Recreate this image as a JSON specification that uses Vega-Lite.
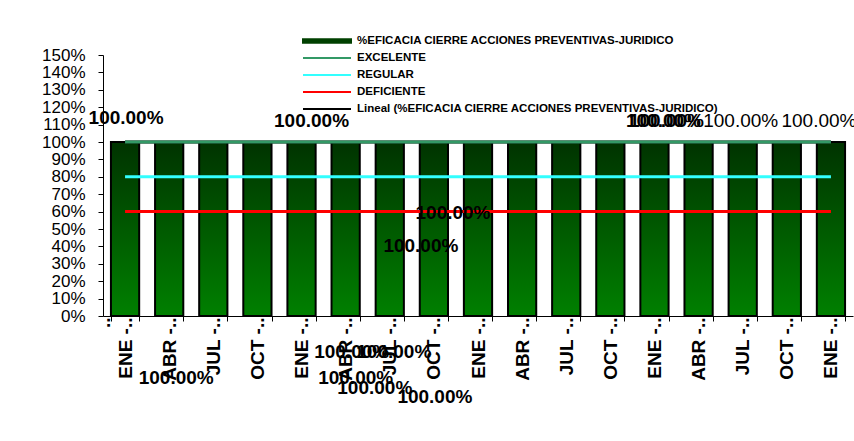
{
  "$schema": "https://vega.github.io/schema/vega-lite/v6.json",
  "width": 750,
  "height": 261,
  "autosize": {"type": "none"},
  "padding": {"left": 103, "top": 55, "right": 1, "bottom": 125},
  "background": "white",
  "config": {"view": {"stroke": null}, "font": "Liberation Sans", "text": {"fontSize": 19, "fontWeight": "bold", "baseline": "middle", "color": "black"}},
  "data": {
    "values": [
      {"n": 1, "periodo": "ENE - MAR 2008", "%EFICACIA CIERRE ACCIONES PREVENTIVAS-JURIDICO": 1.0, "EXCELENTE": 1.0, "REGULAR": 0.8, "DEFICIENTE": 0.6, "Lineal (%EFICACIA CIERRE ACCIONES PREVENTIVAS-JURIDICO)": 1.0},
      {"n": 2, "periodo": "ABR - JUN 2008", "%EFICACIA CIERRE ACCIONES PREVENTIVAS-JURIDICO": 1.0, "EXCELENTE": 1.0, "REGULAR": 0.8, "DEFICIENTE": 0.6, "Lineal (%EFICACIA CIERRE ACCIONES PREVENTIVAS-JURIDICO)": 1.0},
      {"n": 3, "periodo": "JUL - SEP 2008", "%EFICACIA CIERRE ACCIONES PREVENTIVAS-JURIDICO": 1.0, "EXCELENTE": 1.0, "REGULAR": 0.8, "DEFICIENTE": 0.6, "Lineal (%EFICACIA CIERRE ACCIONES PREVENTIVAS-JURIDICO)": 1.0},
      {"n": 4, "periodo": "OCT - DIC 2008", "%EFICACIA CIERRE ACCIONES PREVENTIVAS-JURIDICO": 1.0, "EXCELENTE": 1.0, "REGULAR": 0.8, "DEFICIENTE": 0.6, "Lineal (%EFICACIA CIERRE ACCIONES PREVENTIVAS-JURIDICO)": 1.0},
      {"n": 5, "periodo": "ENE - MAR 2009", "%EFICACIA CIERRE ACCIONES PREVENTIVAS-JURIDICO": 1.0, "EXCELENTE": 1.0, "REGULAR": 0.8, "DEFICIENTE": 0.6, "Lineal (%EFICACIA CIERRE ACCIONES PREVENTIVAS-JURIDICO)": 1.0},
      {"n": 6, "periodo": "ABR - JUN 2009", "%EFICACIA CIERRE ACCIONES PREVENTIVAS-JURIDICO": 1.0, "EXCELENTE": 1.0, "REGULAR": 0.8, "DEFICIENTE": 0.6, "Lineal (%EFICACIA CIERRE ACCIONES PREVENTIVAS-JURIDICO)": 1.0},
      {"n": 7, "periodo": "JUL - SEP 2009", "%EFICACIA CIERRE ACCIONES PREVENTIVAS-JURIDICO": 1.0, "EXCELENTE": 1.0, "REGULAR": 0.8, "DEFICIENTE": 0.6, "Lineal (%EFICACIA CIERRE ACCIONES PREVENTIVAS-JURIDICO)": 1.0},
      {"n": 8, "periodo": "OCT - DIC 2009", "%EFICACIA CIERRE ACCIONES PREVENTIVAS-JURIDICO": 1.0, "EXCELENTE": 1.0, "REGULAR": 0.8, "DEFICIENTE": 0.6, "Lineal (%EFICACIA CIERRE ACCIONES PREVENTIVAS-JURIDICO)": 1.0},
      {"n": 9, "periodo": "ENE - MAR 2010", "%EFICACIA CIERRE ACCIONES PREVENTIVAS-JURIDICO": 1.0, "EXCELENTE": 1.0, "REGULAR": 0.8, "DEFICIENTE": 0.6, "Lineal (%EFICACIA CIERRE ACCIONES PREVENTIVAS-JURIDICO)": 1.0},
      {"n": 10, "periodo": "ABR - JUN 2010", "%EFICACIA CIERRE ACCIONES PREVENTIVAS-JURIDICO": 1.0, "EXCELENTE": 1.0, "REGULAR": 0.8, "DEFICIENTE": 0.6, "Lineal (%EFICACIA CIERRE ACCIONES PREVENTIVAS-JURIDICO)": 1.0},
      {"n": 11, "periodo": "JUL - SEP 2010", "%EFICACIA CIERRE ACCIONES PREVENTIVAS-JURIDICO": 1.0, "EXCELENTE": 1.0, "REGULAR": 0.8, "DEFICIENTE": 0.6, "Lineal (%EFICACIA CIERRE ACCIONES PREVENTIVAS-JURIDICO)": 1.0},
      {"n": 12, "periodo": "OCT - DIC 2010", "%EFICACIA CIERRE ACCIONES PREVENTIVAS-JURIDICO": 1.0, "EXCELENTE": 1.0, "REGULAR": 0.8, "DEFICIENTE": 0.6, "Lineal (%EFICACIA CIERRE ACCIONES PREVENTIVAS-JURIDICO)": 1.0},
      {"n": 13, "periodo": "ENE - MAR 2011", "%EFICACIA CIERRE ACCIONES PREVENTIVAS-JURIDICO": 1.0, "EXCELENTE": 1.0, "REGULAR": 0.8, "DEFICIENTE": 0.6, "Lineal (%EFICACIA CIERRE ACCIONES PREVENTIVAS-JURIDICO)": 1.0},
      {"n": 14, "periodo": "ABR - JUN 2011", "%EFICACIA CIERRE ACCIONES PREVENTIVAS-JURIDICO": 1.0, "EXCELENTE": 1.0, "REGULAR": 0.8, "DEFICIENTE": 0.6, "Lineal (%EFICACIA CIERRE ACCIONES PREVENTIVAS-JURIDICO)": 1.0},
      {"n": 15, "periodo": "JUL - SEP 2011", "%EFICACIA CIERRE ACCIONES PREVENTIVAS-JURIDICO": 1.0, "EXCELENTE": 1.0, "REGULAR": 0.8, "DEFICIENTE": 0.6, "Lineal (%EFICACIA CIERRE ACCIONES PREVENTIVAS-JURIDICO)": 1.0},
      {"n": 16, "periodo": "OCT - DIC 2011", "%EFICACIA CIERRE ACCIONES PREVENTIVAS-JURIDICO": 1.0, "EXCELENTE": 1.0, "REGULAR": 0.8, "DEFICIENTE": 0.6, "Lineal (%EFICACIA CIERRE ACCIONES PREVENTIVAS-JURIDICO)": 1.0},
      {"n": 17, "periodo": "ENE - MAR 2012", "%EFICACIA CIERRE ACCIONES PREVENTIVAS-JURIDICO": 1.0, "EXCELENTE": 1.0, "REGULAR": 0.8, "DEFICIENTE": 0.6, "Lineal (%EFICACIA CIERRE ACCIONES PREVENTIVAS-JURIDICO)": 1.0}
    ]
  },
  "transform": [
    {"fold": ["%EFICACIA CIERRE ACCIONES PREVENTIVAS-JURIDICO", "Lineal (%EFICACIA CIERRE ACCIONES PREVENTIVAS-JURIDICO)", "EXCELENTE", "REGULAR", "DEFICIENTE"], "as": ["serie", "valor"]}
  ],
  "encoding": {
    "x": {
      "field": "periodo", "type": "nominal", "sort": null,
      "scale": {"paddingInner": 0.36, "paddingOuter": 0.18},
      "axis": {
        "title": null, "labelAngle": -90, "labelFontSize": 19, "labelFontWeight": "bold",
        "labelColor": "black", "tickBand": "extent", "tickSize": 5, "tickColor": "black",
        "domainColor": "black", "labelPadding": -4, "labelOverlap": false, "labelBound": false,
        "labelExpr": "slice(datum.label, 0, 5) + '..'"
      }
    },
    "y": {
      "field": "valor", "type": "quantitative",
      "scale": {"domain": [0, 1.5], "nice": false},
      "axis": {
        "title": null, "grid": false, "format": ".0%",
        "values": [0, 0.1, 0.2, 0.3, 0.4, 0.5, 0.6, 0.7, 0.8, 0.9, 1.0, 1.1, 1.2, 1.3, 1.4, 1.5],
        "labelFontSize": 17, "labelColor": "black", "labelPadding": 13, "tickSize": 5,
        "tickColor": "black", "domainColor": "black", "labelOverlap": false, "labelFlush": false
      }
    }
  },
  "layer": [
    {
      "transform": [{"filter": "datum.serie === '%EFICACIA CIERRE ACCIONES PREVENTIVAS-JURIDICO'"}],
      "mark": {
        "type": "bar",
        "stroke": "black",
        "strokeWidth": 2,
        "color": {"gradient": "linear", "x1": 0, "y1": 0, "x2": 0, "y2": 1, "stops": [{"offset": 0, "color": "#003300"}, {"offset": 1, "color": "#008000"}]}
      }
    },
    {
      "transform": [{"filter": "datum.serie !== '%EFICACIA CIERRE ACCIONES PREVENTIVAS-JURIDICO'"}],
      "mark": {"type": "line", "strokeWidth": 3},
      "encoding": {
        "color": {
          "field": "serie", "type": "nominal",
          "scale": {
            "domain": ["%EFICACIA CIERRE ACCIONES PREVENTIVAS-JURIDICO", "EXCELENTE", "REGULAR", "DEFICIENTE", "Lineal (%EFICACIA CIERRE ACCIONES PREVENTIVAS-JURIDICO)"],
            "range": ["#004000", "#339966", "#33FFFF", "#FF0000", "#000000"]
          },
          "legend": {
            "orient": "none", "legendX": 218, "legendY": -20, "title": null,
            "labelFontSize": 11.5, "labelFontWeight": "bold", "labelColor": "black",
            "labelLimit": 0, "symbolSize": 100, "rowPadding": 5, "labelOffset": 24,
            "symbolType": "M-4.8,0H4.8", "symbolStrokeWidth": 2,
            "encode": {
              "symbols": {
                "update": {
                  "shape": {"signal": "datum.value === '%EFICACIA CIERRE ACCIONES PREVENTIVAS-JURIDICO' ? 'M-4.8,-0.35H4.8V0.35H-4.8Z' : 'M-4.8,0H4.8'"},
                  "fill": {"signal": "datum.value === '%EFICACIA CIERRE ACCIONES PREVENTIVAS-JURIDICO' ? '#004000' : 'transparent'"},
                  "stroke": {"signal": "datum.value === '%EFICACIA CIERRE ACCIONES PREVENTIVAS-JURIDICO' ? '#000000' : scale('color', datum.value)"}
                }
              }
            }
          }
        }
      }
    },
    {"transform": [{"filter": "datum.serie === '%EFICACIA CIERRE ACCIONES PREVENTIVAS-JURIDICO' && datum.n === 1"}], "mark": {"type": "text", "dx": 1, "dy": -24}, "encoding": {"text": {"field": "valor", "type": "quantitative", "format": ".2%"}}},
    {"transform": [{"filter": "datum.serie === '%EFICACIA CIERRE ACCIONES PREVENTIVAS-JURIDICO' && datum.n === 5"}], "mark": {"type": "text", "dx": 10, "dy": -21}, "encoding": {"text": {"field": "valor", "type": "quantitative", "format": ".2%"}}},
    {"transform": [{"filter": "datum.serie === '%EFICACIA CIERRE ACCIONES PREVENTIVAS-JURIDICO' && datum.n === 13"}], "mark": {"type": "text", "dx": 9, "dy": -21}, "encoding": {"text": {"field": "valor", "type": "quantitative", "format": ".2%"}}},
    {"transform": [{"filter": "datum.serie === '%EFICACIA CIERRE ACCIONES PREVENTIVAS-JURIDICO' && datum.n === 13"}], "mark": {"type": "text", "dx": 12, "dy": -21}, "encoding": {"text": {"field": "valor", "type": "quantitative", "format": ".2%"}}},
    {"transform": [{"filter": "datum.serie === '%EFICACIA CIERRE ACCIONES PREVENTIVAS-JURIDICO' && datum.n === 15"}], "mark": {"type": "text", "dx": -2, "dy": -21, "fontWeight": "normal"}, "encoding": {"text": {"field": "valor", "type": "quantitative", "format": ".2%"}}},
    {"transform": [{"filter": "datum.serie === '%EFICACIA CIERRE ACCIONES PREVENTIVAS-JURIDICO' && datum.n === 17"}], "mark": {"type": "text", "dx": -12, "dy": -21, "fontWeight": "normal"}, "encoding": {"text": {"field": "valor", "type": "quantitative", "format": ".2%"}}},
    {"transform": [{"filter": "datum.serie === '%EFICACIA CIERRE ACCIONES PREVENTIVAS-JURIDICO' && datum.n === 9"}], "mark": {"type": "text", "dx": -25, "dy": 71}, "encoding": {"text": {"field": "valor", "type": "quantitative", "format": ".2%"}}},
    {"transform": [{"filter": "datum.serie === '%EFICACIA CIERRE ACCIONES PREVENTIVAS-JURIDICO' && datum.n === 8"}], "mark": {"type": "text", "dx": -13, "dy": 104}, "encoding": {"text": {"field": "valor", "type": "quantitative", "format": ".2%"}}},
    {"transform": [{"filter": "datum.serie === '%EFICACIA CIERRE ACCIONES PREVENTIVAS-JURIDICO' && datum.n === 2"}], "mark": {"type": "text", "dx": 7, "dy": 236}, "encoding": {"text": {"field": "valor", "type": "quantitative", "format": ".2%"}}},
    {"transform": [{"filter": "datum.serie === '%EFICACIA CIERRE ACCIONES PREVENTIVAS-JURIDICO' && datum.n === 6"}], "mark": {"type": "text", "dx": 6, "dy": 210}, "encoding": {"text": {"field": "valor", "type": "quantitative", "format": ".2%"}}},
    {"transform": [{"filter": "datum.serie === '%EFICACIA CIERRE ACCIONES PREVENTIVAS-JURIDICO' && datum.n === 7"}], "mark": {"type": "text", "dx": 4, "dy": 210}, "encoding": {"text": {"field": "valor", "type": "quantitative", "format": ".2%"}}},
    {"transform": [{"filter": "datum.serie === '%EFICACIA CIERRE ACCIONES PREVENTIVAS-JURIDICO' && datum.n === 6"}], "mark": {"type": "text", "dx": 10, "dy": 236}, "encoding": {"text": {"field": "valor", "type": "quantitative", "format": ".2%"}}},
    {"transform": [{"filter": "datum.serie === '%EFICACIA CIERRE ACCIONES PREVENTIVAS-JURIDICO' && datum.n === 7"}], "mark": {"type": "text", "dx": -15, "dy": 246}, "encoding": {"text": {"field": "valor", "type": "quantitative", "format": ".2%"}}},
    {"transform": [{"filter": "datum.serie === '%EFICACIA CIERRE ACCIONES PREVENTIVAS-JURIDICO' && datum.n === 8"}], "mark": {"type": "text", "dx": 1, "dy": 255}, "encoding": {"text": {"field": "valor", "type": "quantitative", "format": ".2%"}}}
  ]
}
